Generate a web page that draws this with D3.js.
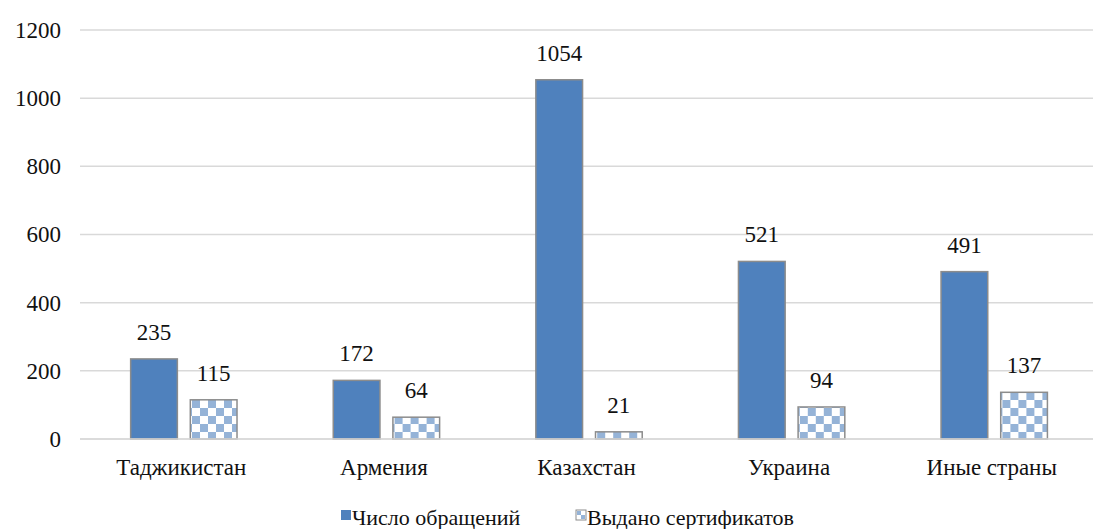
<!DOCTYPE html>
<html lang="ru">
<head>
<meta charset="utf-8">
<title>Chart</title>
<style>
  body { margin: 0; background: #fff; }
  svg text { font-family: "Liberation Serif", "Times New Roman", serif; fill: #111; }
  .axis text { font-size: 23px; }
  .label { font-size: 23px; }
  .legend text { font-size: 22px; }
</style>
</head>
<body>
<script src="https://cdn.jsdelivr.net/npm/d3@7"></script>
<script>
// data
var categories = ["Таджикистан", "Армения", "Казахстан", "Украина", "Иные страны"];
var seriesNames = ["Число обращений", "Выдано сертификатов"];
var requests = [235, 172, 1054, 521, 491];
var certificates = [115, 64, 21, 94, 137];
var yTicks = [0, 200, 400, 600, 800, 1000, 1200];

var w = 1108, h = 529;
var mLeft = 80, mRight = 1093, mTop = 30, mBottom = 439;

var svg = d3.select("body").append("svg")
  .attr("width", w)
  .attr("height", h);

// checker pattern for second series
var defs = svg.append("defs");
var pat = defs.append("pattern")
  .attr("id", "checker")
  .attr("patternUnits", "userSpaceOnUse")
  .attr("width", 16)
  .attr("height", 16);
pat.append("rect").attr("width", 16).attr("height", 16).attr("fill", "#fff");
pat.append("rect").attr("width", 8).attr("height", 8).attr("fill", "#95b3d7");
pat.append("rect").attr("x", 8).attr("y", 8).attr("width", 8).attr("height", 8).attr("fill", "#95b3d7");

var y = d3.scaleLinear().domain([0, 1200]).range([mBottom, mTop]);

var x0 = d3.scaleBand().domain(categories).range([mLeft, mRight]).padding(0);
var x1 = d3.scaleBand().domain(seriesNames)
  .range([x0.bandwidth() * 0.25, x0.bandwidth() * 0.775])
  .paddingInner(0.217);

// gridlines
svg.append("g")
  .selectAll("line")
  .data(yTicks)
  .enter()
  .append("line")
  .attr("x1", mLeft)
  .attr("x2", mRight)
  .attr("y1", function(d) { return y(d) })
  .attr("y2", function(d) { return y(d) })
  .attr("stroke", "#d9d9d9")
  .attr("stroke-width", 1.5);

// y axis labels
var yAxis = d3.axisLeft(y).tickValues(yTicks).tickFormat(d3.format("d")).tickSize(0).tickPadding(19);
svg.append("g")
  .attr("class", "axis")
  .attr("transform", "translate(" + mLeft + ",0)")
  .call(yAxis)
  .call(function(g) { g.select(".domain").remove() })
  .attr("font-family", null)
  .attr("font-size", null);

var rows = categories.map(function(c, i) {
  return { cat: c, vals: [requests[i], certificates[i]] };
});

var groups = svg.selectAll(".grp")
  .data(rows)
  .enter()
  .append("g")
  .attr("class", "grp")
  .attr("transform", function(d) { return "translate(" + x0(d.cat) + ",0)" });

groups.selectAll("rect")
  .data(function(d) { return d.vals.map(function(v, j) { return { s: seriesNames[j], v: v, j: j } }) })
  .enter()
  .append("rect")
  .attr("x", function(d) { return x1(d.s) })
  .attr("width", x1.bandwidth())
  .attr("y", function(d) { return y(d.v) })
  .attr("height", function(d) { return y(0) - y(d.v) })
  .attr("fill", function(d) { return d.j === 0 ? "#4f81bd" : "url(#checker)" })
  .attr("stroke", "#8c8c8c")
  .attr("stroke-width", 1.5);

groups.selectAll(".label")
  .data(function(d) { return d.vals.map(function(v, j) { return { s: seriesNames[j], v: v } }) })
  .enter()
  .append("text")
  .attr("class", "label")
  .attr("text-anchor", "middle")
  .attr("x", function(d) { return x1(d.s) + x1.bandwidth() / 2 })
  .attr("y", function(d) { return y(d.v) - 19 })
  .text(function(d) { return d.v });

// baseline
svg.append("line")
  .attr("x1", mLeft).attr("x2", mRight)
  .attr("y1", y(0)).attr("y2", y(0))
  .attr("stroke", "#d9d9d9")
  .attr("stroke-width", 1.5);

// x axis labels
var xAxis = d3.axisBottom(x0).tickSize(0).tickPadding(20);
svg.append("g")
  .attr("class", "axis")
  .attr("transform", "translate(0," + mBottom + ")")
  .call(xAxis)
  .call(function(g) { g.select(".domain").remove() })
  .attr("font-family", null)
  .attr("font-size", null);

// legend
var legend = svg.append("g").attr("class", "legend");
var legendX = [341, 576];
seriesNames.forEach(function(name, i) {
  var g = legend.append("g").attr("transform", "translate(" + legendX[i] + ",510)");
  g.append("rect")
    .attr("width", 10).attr("height", 10)
    .attr("fill", i === 0 ? "#4f81bd" : "#fff")
    .attr("stroke", i === 0 ? "none" : "#8c8c8c");
  if (i === 1) {
    g.append("rect").attr("x", 1).attr("y", 1).attr("width", 4).attr("height", 4).attr("fill", "#95b3d7");
    g.append("rect").attr("x", 5).attr("y", 5).attr("width", 4).attr("height", 4).attr("fill", "#95b3d7");
  }
  g.append("text").attr("x", 11).attr("y", 15).text(name);
});
</script>
</body>
</html>
